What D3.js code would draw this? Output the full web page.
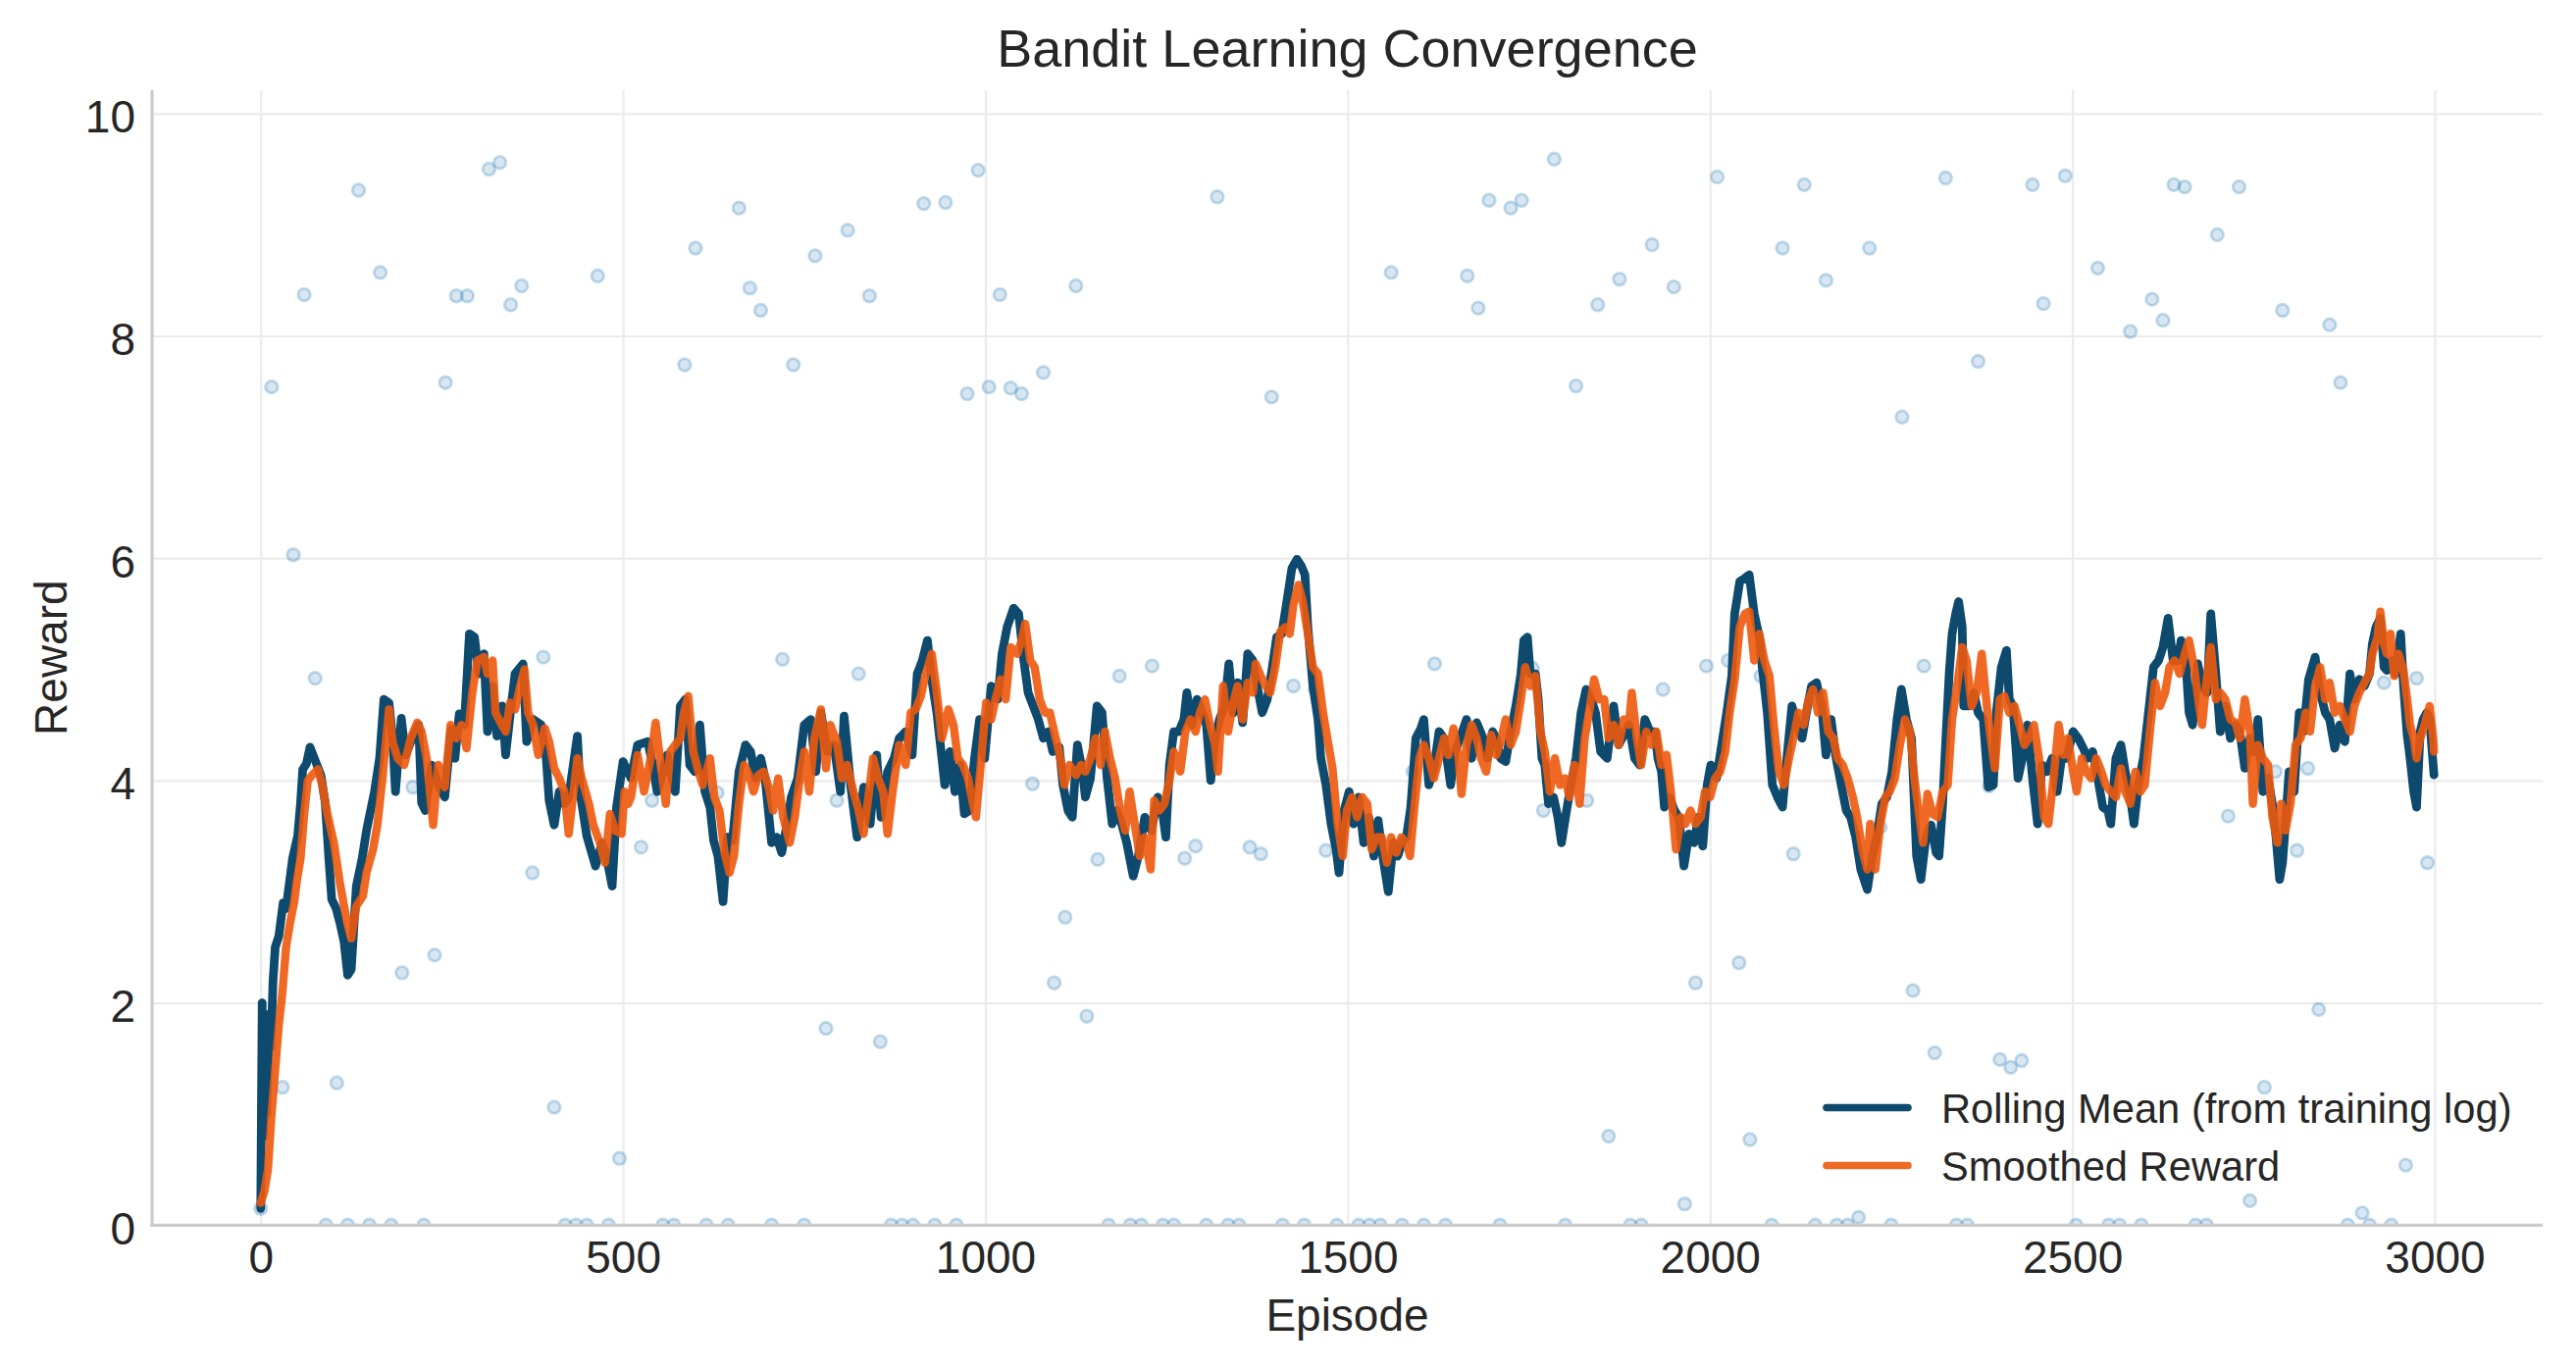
<!DOCTYPE html>
<html>
<head>
<meta charset="utf-8">
<script src="https://cdn.jsdelivr.net/npm/d3@7"></script>
<style>
  html, body { margin: 0; padding: 0; background: #ffffff; }
  svg { display: block; font-family: "Liberation Sans", Arial, Helvetica, sans-serif; }
</style>
</head>
<body>
<svg id="chart" width="2626" height="1396"></svg>
<script>
// ---------------- DATA ----------------
const chartTitle = "Bandit Learning Convergence";
const xLabel = "Episode";
const yLabel = "Reward";
const xTicks = [0, 500, 1000, 1500, 2000, 2500, 3000];
const yTicks = [0, 2, 4, 6, 8, 10];
const seriesNames = ["Rolling Mean (from training log)", "Smoothed Reward"];

// Rolling mean from the training log: [episode, reward]
const rollingMean = [
[0,0.15],[2,2.0],[4,0.8],[6,1.6],[8,1.0],[10,1.4],[12,1.9],[14,1.6],[17,2.2],[20,2.5],[25,2.6],[31,2.9],[35,2.85],[40,3.1],[44,3.3],[51,3.5],[55,3.8],[58,4.1],[63,4.15],[68,4.3],[74,4.2],[80,4.1],[83,4.05],[89,3.8],[94,3.3],[98,2.93],[104,2.85],[110,2.7],[115,2.55],[120,2.25],[125,2.3],[132,3.05],[140,3.3],[146,3.55],[157,3.9],[164,4.2],[170,4.73],[177,4.7],[182,4.38],[186,3.9],[194,4.56],[200,4.23],[209,4.38],[218,4.5],[222,3.8],[227,3.73],[236,4.14],[245,3.96],[254,3.85],[263,4.46],[268,4.2],[274,4.6],[281,4.5],[288,5.32],[295,5.29],[301,4.96],[308,5.14],[313,4.44],[320,4.85],[326,4.4],[333,4.67],[338,4.23],[344,4.58],[351,4.96],[362,5.05],[367,4.35],[376,4.55],[387,4.5],[394,4.2],[398,3.82],[405,3.6],[412,3.9],[419,3.79],[425,3.85],[437,4.4],[441,3.88],[450,3.5],[462,3.23],[471,3.44],[477,3.32],[485,3.05],[491,3.76],[500,4.17],[511,4.02],[520,4.32],[534,4.35],[541,4.14],[547,3.9],[554,4.05],[561,4.23],[572,3.9],[579,4.67],[586,4.73],[592,4.14],[599,4.08],[606,4.5],[613,3.9],[620,3.76],[625,3.46],[631,3.32],[638,2.91],[644,3.49],[651,3.46],[660,4.08],[669,4.32],[676,4.26],[683,4.02],[690,4.2],[696,4.02],[705,3.44],[712,3.49],[719,3.35],[728,3.67],[732,3.85],[741,4.02],[750,4.5],[759,4.55],[766,4.08],[773,4.61],[782,4.26],[791,4.32],[800,3.9],[805,4.58],[814,3.96],[823,3.49],[832,3.94],[841,3.61],[850,4.23],[856,3.67],[865,4.08],[874,4.2],[881,4.38],[890,4.44],[899,4.23],[906,4.96],[913,5.08],[920,5.26],[926,4.91],[933,4.61],[940,4.2],[944,3.96],[951,4.26],[958,3.9],[965,4.14],[971,3.7],[978,3.73],[985,4.2],[992,4.55],[999,4.2],[1008,4.85],[1017,4.73],[1023,5.14],[1030,5.38],[1039,5.55],[1046,5.5],[1053,5.08],[1059,4.79],[1066,4.67],[1073,4.55],[1080,4.38],[1087,4.44],[1093,4.26],[1102,4.3],[1107,3.96],[1114,3.73],[1120,3.67],[1127,4.32],[1134,4.08],[1138,3.85],[1145,4.02],[1150,4.38],[1154,4.67],[1161,4.61],[1168,4.02],[1175,3.61],[1181,3.73],[1188,3.61],[1195,3.44],[1204,3.14],[1211,3.32],[1220,3.67],[1229,3.55],[1238,3.85],[1244,3.73],[1249,3.49],[1254,4.14],[1260,4.44],[1267,4.44],[1274,4.55],[1278,4.79],[1285,4.5],[1292,4.73],[1299,4.61],[1305,4.5],[1311,4.0],[1317,4.38],[1323,4.55],[1330,4.67],[1336,5.05],[1342,4.61],[1348,4.88],[1355,4.52],[1362,5.14],[1369,5.08],[1375,4.85],[1382,4.61],[1389,4.73],[1396,5.02],[1402,5.29],[1409,5.32],[1416,5.61],[1423,5.91],[1430,5.99],[1436,5.93],[1441,5.85],[1445,5.38],[1452,4.85],[1459,4.55],[1463,4.2],[1470,3.96],[1477,3.61],[1484,3.38],[1488,3.17],[1495,3.73],[1502,3.9],[1508,3.61],[1515,3.85],[1522,3.44],[1529,3.67],[1536,3.32],[1542,3.64],[1549,3.29],[1556,3.0],[1563,3.44],[1569,3.32],[1576,3.46],[1581,3.49],[1587,3.76],[1594,4.38],[1601,4.47],[1605,4.55],[1612,3.96],[1619,4.11],[1626,4.44],[1633,4.38],[1642,3.96],[1648,4.26],[1655,4.38],[1664,4.55],[1671,4.2],[1678,4.52],[1687,4.38],[1693,4.2],[1700,4.44],[1705,4.38],[1711,4.2],[1718,4.17],[1725,4.44],[1732,4.67],[1739,4.96],[1743,5.26],[1748,5.29],[1752,4.96],[1759,4.96],[1763,4.73],[1768,4.2],[1772,4.14],[1777,3.79],[1784,3.85],[1790,3.67],[1795,3.44],[1802,3.73],[1808,3.96],[1815,4.2],[1822,4.61],[1829,4.82],[1836,4.73],[1842,4.61],[1849,4.26],[1858,4.2],[1867,4.67],[1874,4.32],[1881,4.41],[1888,4.5],[1896,4.2],[1903,4.14],[1910,4.55],[1917,4.44],[1924,4.44],[1928,4.2],[1933,4.08],[1937,3.76],[1944,3.85],[1951,3.73],[1957,3.67],[1964,3.23],[1971,3.52],[1978,3.44],[1984,3.67],[1990,3.41],[1996,3.96],[2001,4.14],[2009,4.02],[2016,4.32],[2023,4.61],[2030,4.94],[2034,5.5],[2041,5.79],[2048,5.82],[2054,5.85],[2061,5.5],[2068,5.29],[2072,5.02],[2079,4.61],[2086,3.96],[2093,3.85],[2100,3.76],[2106,4.2],[2113,4.67],[2120,4.5],[2127,4.38],[2133,4.61],[2140,4.85],[2147,4.88],[2154,4.67],[2160,4.23],[2167,4.55],[2174,4.2],[2181,3.96],[2188,3.73],[2194,3.67],[2201,3.49],[2208,3.2],[2217,3.02],[2224,3.32],[2230,3.49],[2237,3.79],[2244,3.85],[2251,4.08],[2258,4.55],[2264,4.82],[2271,4.55],[2278,4.38],[2285,3.32],[2291,3.11],[2298,3.49],[2305,3.6],[2312,3.35],[2316,3.32],[2321,3.79],[2325,4.32],[2330,4.96],[2334,5.32],[2339,5.5],[2343,5.61],[2348,5.38],[2350,4.67],[2357,4.67],[2364,4.79],[2370,4.61],[2377,4.55],[2384,3.94],[2391,3.96],[2395,4.61],[2402,5.02],[2409,5.17],[2413,4.73],[2418,4.67],[2425,4.02],[2431,4.2],[2438,4.5],[2445,4.02],[2452,3.61],[2458,4.14],[2465,4.08],[2472,4.2],[2479,3.9],[2485,4.2],[2492,4.2],[2501,4.44],[2508,4.38],[2515,4.29],[2521,4.2],[2528,4.26],[2535,4.02],[2542,3.76],[2549,3.73],[2553,3.61],[2560,4.2],[2567,4.32],[2573,4.08],[2580,3.85],[2585,3.61],[2591,3.96],[2598,4.2],[2605,4.61],[2612,5.02],[2619,5.08],[2625,5.2],[2632,5.46],[2639,5.08],[2646,5.08],[2650,5.26],[2657,5.02],[2661,4.61],[2666,4.5],[2673,5.05],[2679,4.85],[2686,4.79],[2691,5.5],[2698,4.96],[2704,4.44],[2711,4.67],[2718,4.38],[2725,4.5],[2731,4.44],[2738,4.11],[2745,4.38],[2752,4.26],[2756,4.55],[2763,3.9],[2770,4.02],[2776,3.79],[2781,3.49],[2786,3.11],[2790,3.26],[2794,3.61],[2799,4.08],[2806,3.9],[2813,4.61],[2819,4.44],[2826,4.91],[2835,5.11],[2842,4.79],[2849,4.61],[2855,4.55],[2862,4.29],[2869,4.5],[2876,4.35],[2883,4.96],[2889,4.73],[2896,4.91],[2903,4.85],[2910,4.96],[2914,5.23],[2919,5.38],[2925,5.46],[2930,5.02],[2934,4.99],[2941,5.08],[2946,4.96],[2953,5.32],[2957,4.85],[2962,4.41],[2966,4.2],[2971,3.9],[2975,3.76],[2980,4.44],[2984,4.55],[2989,4.61],[2993,4.55],[2999,4.05]
];

// Smoothed reward: [episode, reward]
const smoothedReward = [
[0,0.2],[5,0.3],[10,0.5],[15,1.0],[20,1.4],[25,1.8],[30,2.1],[35,2.5],[40,2.7],[46,2.9],[50,3.1],[55,3.3],[60,3.7],[65,4.0],[71,4.05],[79,4.1],[85,3.96],[92,3.7],[101,3.44],[110,3.05],[119,2.73],[125,2.58],[132,2.87],[141,2.96],[146,3.17],[155,3.38],[161,3.6],[168,4.02],[177,4.64],[182,4.35],[189,4.2],[198,4.14],[207,4.38],[216,4.52],[222,4.44],[229,4.2],[238,3.6],[245,4.14],[254,3.94],[262,4.5],[270,4.38],[277,4.5],[284,4.29],[292,4.79],[299,5.08],[308,5.11],[313,4.96],[320,5.08],[324,4.61],[331,4.52],[338,4.44],[344,4.7],[351,4.64],[358,4.85],[364,5.0],[369,4.61],[376,4.5],[383,4.23],[392,4.47],[398,4.35],[405,4.11],[412,4.02],[419,3.9],[425,3.52],[437,4.2],[443,4.02],[453,3.79],[459,3.6],[468,3.44],[475,3.26],[482,3.7],[489,3.55],[498,3.52],[502,3.9],[507,3.79],[511,3.85],[520,4.23],[529,3.9],[538,4.2],[545,4.52],[552,4.14],[559,3.79],[565,4.26],[572,4.32],[579,4.38],[584,4.61],[590,4.76],[597,4.26],[604,4.08],[610,3.96],[620,4.2],[626,3.85],[633,3.73],[640,3.35],[647,3.17],[653,3.32],[660,3.79],[667,4.14],[674,4.05],[680,3.9],[687,4.05],[694,4.08],[701,3.94],[707,3.73],[714,4.02],[721,3.67],[730,3.44],[737,3.67],[744,4.02],[750,4.26],[757,3.9],[764,4.38],[773,4.64],[780,4.11],[786,4.5],[795,4.35],[802,4.02],[809,4.14],[818,3.9],[825,3.73],[832,3.52],[838,3.82],[845,4.2],[852,4.02],[859,3.9],[865,3.52],[872,3.9],[881,4.32],[890,4.14],[897,4.61],[904,4.64],[911,4.76],[917,4.94],[926,5.14],[933,4.79],[940,4.38],[949,4.64],[956,4.5],[962,4.2],[969,4.14],[976,4.02],[983,3.79],[987,3.67],[994,4.17],[1001,4.7],[1008,4.55],[1014,4.73],[1021,4.91],[1028,4.73],[1035,5.2],[1044,5.14],[1050,5.26],[1055,5.41],[1062,5.08],[1068,5.02],[1075,4.73],[1082,4.61],[1089,4.61],[1096,4.41],[1102,4.25],[1109,3.96],[1116,4.14],[1125,4.05],[1132,4.14],[1138,4.08],[1145,4.2],[1152,4.38],[1159,4.14],[1165,4.44],[1172,4.2],[1179,4.02],[1186,3.73],[1193,3.55],[1199,3.9],[1206,3.61],[1213,3.32],[1220,3.49],[1228,3.2],[1233,3.82],[1240,3.73],[1247,3.79],[1254,4.0],[1260,4.26],[1269,4.08],[1276,4.44],[1283,4.55],[1290,4.44],[1296,4.61],[1303,4.73],[1310,4.5],[1317,4.32],[1321,4.08],[1328,4.85],[1335,4.44],[1341,4.67],[1348,4.85],[1355,4.55],[1362,4.88],[1369,4.79],[1373,5.05],[1380,4.94],[1387,4.85],[1393,4.79],[1400,5.02],[1407,5.34],[1414,5.38],[1420,5.32],[1425,5.58],[1432,5.76],[1438,5.61],[1445,5.32],[1452,5.02],[1459,4.96],[1466,4.61],[1472,4.38],[1479,4.11],[1486,3.61],[1493,3.32],[1499,3.73],[1506,3.85],[1513,3.67],[1520,3.85],[1527,3.79],[1533,3.38],[1540,3.49],[1547,3.49],[1554,3.26],[1560,3.49],[1567,3.35],[1574,3.49],[1581,3.44],[1586,3.32],[1592,3.76],[1599,4.2],[1605,4.32],[1612,4.2],[1619,4.02],[1626,4.2],[1633,4.38],[1639,4.23],[1646,4.47],[1653,4.2],[1657,3.88],[1664,4.32],[1671,4.5],[1678,4.38],[1684,4.2],[1691,4.08],[1698,4.41],[1705,4.23],[1711,4.35],[1718,4.55],[1725,4.32],[1732,4.44],[1739,4.73],[1745,5.02],[1752,4.85],[1759,4.94],[1766,4.44],[1772,4.26],[1779,3.9],[1786,4.2],[1793,3.96],[1800,4.02],[1806,3.85],[1813,4.14],[1820,3.79],[1827,4.38],[1833,4.61],[1840,4.91],[1847,4.73],[1854,4.73],[1860,4.38],[1867,4.5],[1874,4.32],[1881,4.55],[1888,4.5],[1892,4.79],[1899,4.38],[1905,4.14],[1912,4.44],[1919,4.32],[1926,4.44],[1933,4.14],[1940,4.23],[1946,3.9],[1953,3.38],[1960,3.67],[1966,3.61],[1973,3.73],[1980,3.61],[1987,3.67],[1993,3.9],[2000,3.85],[2007,4.02],[2014,4.08],[2021,4.26],[2027,4.61],[2034,4.91],[2041,5.38],[2048,5.5],[2054,5.52],[2061,5.08],[2068,5.32],[2075,5.08],[2082,4.94],[2088,4.5],[2095,4.08],[2102,3.96],[2109,4.2],[2115,4.38],[2122,4.61],[2129,4.5],[2136,4.73],[2142,4.82],[2149,4.61],[2156,4.79],[2163,4.44],[2170,4.38],[2176,4.2],[2183,4.14],[2190,4.02],[2197,3.85],[2203,3.67],[2210,3.38],[2217,3.2],[2221,3.61],[2228,3.2],[2235,3.61],[2242,3.85],[2248,3.9],[2255,4.02],[2262,4.32],[2269,4.55],[2276,4.44],[2282,4.02],[2289,3.67],[2294,3.44],[2300,3.88],[2307,3.7],[2314,3.67],[2321,3.9],[2328,3.96],[2334,4.55],[2341,4.85],[2348,5.2],[2354,5.08],[2361,4.67],[2368,4.79],[2375,5.14],[2382,4.67],[2386,4.44],[2393,4.11],[2400,4.73],[2406,4.76],[2413,4.61],[2420,4.67],[2427,4.5],[2434,4.32],[2440,4.38],[2447,4.5],[2454,4.2],[2461,3.67],[2467,3.61],[2474,4.02],[2481,4.5],[2488,4.23],[2494,4.38],[2501,4.08],[2506,3.9],[2513,4.2],[2519,4.08],[2526,4.02],[2533,4.2],[2540,4.08],[2546,3.96],[2553,3.9],[2560,3.85],[2567,4.11],[2573,3.9],[2580,3.79],[2587,4.08],[2594,3.9],[2600,3.96],[2607,4.44],[2614,4.88],[2621,4.67],[2628,4.79],[2634,5.02],[2641,5.08],[2648,4.96],[2655,5.14],[2661,5.26],[2668,5.02],[2675,4.67],[2679,4.5],[2686,4.94],[2691,5.2],[2698,4.73],[2704,4.79],[2711,4.73],[2718,4.55],[2725,4.52],[2731,4.38],[2738,4.73],[2745,4.44],[2749,3.79],[2756,4.32],[2763,4.2],[2770,4.14],[2776,3.67],[2783,3.44],[2788,3.79],[2794,3.55],[2801,3.79],[2808,4.32],[2815,4.38],[2822,4.61],[2828,4.44],[2835,4.85],[2842,5.02],[2849,4.73],[2855,4.88],[2862,4.61],[2869,4.67],[2876,4.55],[2883,4.44],[2889,4.67],[2896,4.79],[2903,4.88],[2910,4.96],[2914,5.14],[2921,5.29],[2925,5.52],[2930,5.23],[2934,5.14],[2939,5.32],[2944,4.94],[2950,5.14],[2957,4.99],[2962,4.73],[2966,4.5],[2971,4.38],[2975,4.2],[2980,4.38],[2986,4.5],[2993,4.67],[2998,4.38],[2999,4.26]
];

// Raw episode rewards (sampled): [episode, reward]
const rawRewards = [
[0,0.15],[15,7.54],[30,1.24],[45,6.03],[60,8.37],[75,4.92],[90,0],[105,1.28],[120,0],[135,9.31],[150,0],[165,8.57],[180,0],[195,2.27],[210,3.94],[225,0],[240,2.43],[255,7.58],[270,8.36],[285,8.36],[315,9.50],[330,9.56],[345,8.28],[360,8.45],[375,3.17],[390,5.11],[405,1.06],[420,0],[435,0],[450,0],[465,8.54],[480,0],[495,0.60],[525,3.40],[540,3.82],[555,0],[570,0],[585,7.74],[600,8.79],[615,0],[630,3.89],[645,0],[660,9.15],[675,8.43],[690,8.23],[705,0],[720,5.09],[735,7.74],[750,0],[765,8.72],[780,1.77],[795,3.82],[810,8.95],[825,4.96],[840,8.36],[855,1.65],[870,0],[885,0],[900,0],[915,9.19],[930,0],[945,9.20],[960,0],[975,7.48],[990,9.49],[1005,7.54],[1020,8.37],[1035,7.53],[1050,7.48],[1065,3.97],[1080,7.67],[1095,2.18],[1110,2.77],[1125,8.45],[1140,1.88],[1155,3.29],[1170,0],[1185,4.94],[1200,0],[1215,0],[1230,5.03],[1245,0],[1260,0],[1275,3.30],[1290,3.41],[1305,0],[1320,9.25],[1335,0],[1350,0],[1365,3.40],[1380,3.34],[1395,7.45],[1410,0],[1425,4.85],[1440,0],[1455,4.82],[1470,3.37],[1485,0],[1515,0],[1530,0],[1545,0],[1560,8.57],[1575,0],[1590,4.08],[1605,0],[1620,5.05],[1635,0],[1665,8.54],[1680,8.25],[1695,9.22],[1710,0],[1725,9.15],[1740,9.22],[1755,5.01],[1770,3.73],[1785,9.59],[1800,0],[1815,7.55],[1830,3.82],[1845,8.28],[1860,0.80],[1875,8.51],[1890,0],[1905,0],[1920,8.82],[1935,4.82],[1950,8.44],[1965,0.19],[1980,2.18],[1995,5.03],[2010,9.43],[2025,5.08],[2040,2.36],[2055,0.77],[2070,4.94],[2085,0],[2100,8.79],[2115,3.34],[2130,9.36],[2145,0],[2160,8.50],[2175,0],[2190,0],[2205,0.07],[2220,8.79],[2235,3.58],[2250,0],[2265,7.27],[2280,2.11],[2295,5.03],[2310,1.55],[2325,9.42],[2340,0],[2355,0],[2370,7.77],[2385,3.95],[2400,1.49],[2415,1.42],[2430,1.48],[2445,9.36],[2460,8.29],[2490,9.44],[2505,0],[2535,8.61],[2550,0],[2565,0],[2580,8.04],[2595,0],[2610,8.33],[2625,8.14],[2640,9.36],[2655,9.34],[2670,0],[2685,0],[2700,8.91],[2715,3.68],[2730,9.34],[2745,0.22],[2765,1.24],[2780,4.08],[2790,8.23],[2810,3.37],[2825,4.11],[2840,1.94],[2855,8.10],[2870,7.58],[2880,0],[2900,0.11],[2910,0],[2930,4.88],[2940,0],[2960,0.54],[2975,4.92],[2990,3.26]
];

// ---------------- CHART ----------------
const W = 2626, H = 1396;
const plot = { left: 155, right: 2592, top: 92, bottom: 1249.3 };
const svg = d3.select("#chart");
svg.append("rect").attr("width", W).attr("height", H).attr("fill", "#ffffff");

const x = d3.scaleLinear().domain([-149.95, 3148.95]).range([plot.left, plot.right]);
const y = d3.scaleLinear().domain([0, 10.21]).range([plot.bottom, plot.top]);

const textColor = "#262626";
const gridColor = "#ebebeb";
const spineColor = "#cccccc";
const darkColor = "#0e4a6e";
const orangeColor = "#ed590d";

// clip
svg.append("defs").append("clipPath").attr("id", "plotclip")
  .append("rect").attr("x", plot.left).attr("y", plot.top)
  .attr("width", plot.right - plot.left).attr("height", plot.bottom - plot.top);

// grid
const gx = svg.append("g").attr("transform", `translate(0,${plot.bottom})`)
  .call(d3.axisBottom(x).tickValues(xTicks).tickSize(-(plot.bottom - plot.top)).tickFormat(""));
gx.select(".domain").remove();
gx.selectAll(".tick line").attr("stroke", gridColor).attr("stroke-width", 2.2);

const gy = svg.append("g").attr("transform", `translate(${plot.left},0)`)
  .call(d3.axisLeft(y).tickValues(yTicks).tickSize(-(plot.right - plot.left)).tickFormat(""));
gy.select(".domain").remove();
gy.selectAll(".tick line").attr("stroke", gridColor).attr("stroke-width", 2.2);

const content = svg.append("g").attr("clip-path", "url(#plotclip)");

// scatter
content.append("g").selectAll("circle").data(rawRewards).join("circle")
  .attr("cx", d => x(d[0])).attr("cy", d => y(d[1])).attr("r", 6.3)
  .attr("fill", "#1f77b4").attr("fill-opacity", 0.18)
  .attr("stroke", "#1f77b4").attr("stroke-opacity", 0.26).attr("stroke-width", 2.8);

// lines
const line = d3.line().x(d => x(d[0])).y(d => y(d[1]));
content.append("path").datum(rollingMean).attr("d", line)
  .attr("fill", "none").attr("stroke", darkColor).attr("stroke-width", 8.8)
  .attr("stroke-linejoin", "round").attr("stroke-linecap", "round");
content.append("path").datum(smoothedReward).attr("d", line)
  .attr("fill", "none").attr("stroke", orangeColor).attr("stroke-opacity", 0.9).attr("stroke-width", 8.4)
  .attr("stroke-linejoin", "round").attr("stroke-linecap", "round");

// spines
svg.append("line").attr("x1", plot.left).attr("x2", plot.left).attr("y1", plot.top).attr("y2", plot.bottom + 1.6)
  .attr("stroke", spineColor).attr("stroke-width", 3.3);
svg.append("line").attr("x1", plot.left - 1.6).attr("x2", plot.right).attr("y1", plot.bottom).attr("y2", plot.bottom)
  .attr("stroke", spineColor).attr("stroke-width", 3.3);

// tick labels
const ax = svg.append("g").attr("transform", `translate(0,${plot.bottom})`)
  .call(d3.axisBottom(x).tickValues(xTicks).tickSize(0).tickPadding(16).tickFormat(d3.format("d")));
ax.select(".domain").remove();
ax.selectAll("text").attr("fill", textColor).style("font-size", "46px")
  .style("font-family", "'Liberation Sans', Arial, sans-serif");

const ay = svg.append("g").attr("transform", `translate(${plot.left},0)`)
  .call(d3.axisLeft(y).tickValues(yTicks).tickSize(0).tickPadding(17).tickFormat(d3.format("d")));
ay.select(".domain").remove();
ay.selectAll("text").attr("fill", textColor).attr("dy", "0.41em").style("font-size", "46px")
  .style("font-family", "'Liberation Sans', Arial, sans-serif");

// title & labels
svg.append("text").attr("x", (plot.left + plot.right) / 2).attr("y", 68)
  .attr("text-anchor", "middle").attr("fill", textColor).style("font-size", "54px").text(chartTitle);
svg.append("text").attr("x", (plot.left + plot.right) / 2).attr("y", 1357)
  .attr("text-anchor", "middle").attr("fill", textColor).style("font-size", "46px").text(xLabel);
svg.append("text").attr("transform", `translate(68,${(plot.top + plot.bottom) / 2}) rotate(-90)`)
  .attr("text-anchor", "middle").attr("fill", textColor).style("font-size", "46px").text(yLabel);

// legend
const legend = svg.append("g");
const legendItems = [
  { name: seriesNames[0], color: darkColor, op: 1, yLine: 1129.5, yText: 1145 },
  { name: seriesNames[1], color: orangeColor, op: 0.9, yLine: 1188.5, yText: 1204 }
];
legendItems.forEach(it => {
  legend.append("line").attr("x1", 1862).attr("x2", 1945).attr("y1", it.yLine).attr("y2", it.yLine)
    .attr("stroke", it.color).attr("stroke-opacity", it.op).attr("stroke-width", 7.6).attr("stroke-linecap", "round");
  legend.append("text").attr("x", 1979).attr("y", it.yText).attr("fill", textColor)
    .style("font-size", "41.7px").text(it.name);
});
</script>
</body>
</html>
